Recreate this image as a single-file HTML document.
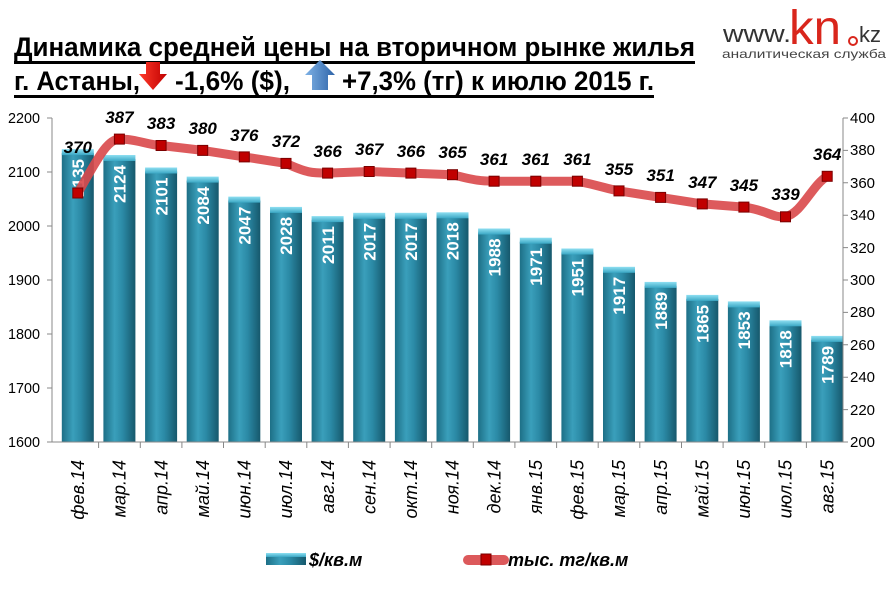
<!DOCTYPE html>
<html><head><meta charset="utf-8"><style>
body{margin:0;background:#fff;width:887px;height:591px;overflow:hidden}
svg{display:block}
text{font-family:"Liberation Sans",sans-serif}
</style></head><body>
<svg width="887" height="591" viewBox="0 0 887 591" xmlns="http://www.w3.org/2000/svg">
<defs>
<linearGradient id="bg" x1="0" x2="1" y1="0" y2="0">
<stop offset="0" stop-color="#1d6f86"/><stop offset="0.35" stop-color="#3a9fbb"/><stop offset="0.6" stop-color="#2b8aa6"/><stop offset="1" stop-color="#16586c"/>
</linearGradient>
<linearGradient id="bt" x1="0" x2="0" y1="0" y2="1"><stop offset="0" stop-color="#8fe0f2"/><stop offset="1" stop-color="#3aa7c4"/></linearGradient>
<linearGradient id="ar" x1="0" x2="1"><stop offset="0" stop-color="#ff3b2b"/><stop offset="1" stop-color="#c00000"/></linearGradient>
<linearGradient id="ab" x1="0" x2="1"><stop offset="0" stop-color="#7fb2e6"/><stop offset="1" stop-color="#2e64a8"/></linearGradient>
<rect id="t" x="-16" y="-4" width="32" height="6" fill="url(#bt)"/>
<rect id="m" x="-5" y="-5" width="10" height="10" fill="#c00000" stroke="#7a0000"/>
</defs>
<!-- Title -->
<text x="14" y="56" font-size="27" font-weight="bold" textLength="681" lengthAdjust="spacingAndGlyphs">Динамика средней  цены на вторичном рынке жилья</text>
<rect x="14" y="61" width="681" height="3" fill="#000"/>
<text x="14" y="90" font-size="27" font-weight="bold" textLength="126" lengthAdjust="spacingAndGlyphs">г. Астаны,</text>
<path d="M146 62h14v12h7l-14 16-14-16h7z" fill="url(#ar)"/>
<text x="175" y="90" font-size="27" font-weight="bold" textLength="115" lengthAdjust="spacingAndGlyphs">-1,6% ($),</text>
<path d="M320 60l15 15h-7v15h-16v-15h-7z" fill="url(#ab)"/>
<text x="342" y="90" font-size="27" font-weight="bold" textLength="312" lengthAdjust="spacingAndGlyphs">+7,3% (тг) к июлю 2015 г.</text>
<rect x="14" y="95" width="640" height="3" fill="#000"/>
<!-- logo -->
<text x="723" y="42" font-size="24" fill="#333" textLength="68" lengthAdjust="spacingAndGlyphs">www.</text>
<text x="789" y="44" font-size="48" fill="#d9261c" textLength="52" lengthAdjust="spacingAndGlyphs">kn</text>
<circle cx="853" cy="41" r="4" fill="none" stroke="#d9261c" stroke-width="2"/>
<text x="859" y="42" font-size="22" fill="#333">kz</text>
<text x="722" y="58" font-size="12" fill="#444" textLength="164" lengthAdjust="spacingAndGlyphs">аналитическая служба</text>
<!-- axes -->
<g font-size="15" fill="#000">
<text x="40" y="123" text-anchor="end" textLength="32" lengthAdjust="spacingAndGlyphs">2200</text><text x="40" y="177" text-anchor="end" textLength="32" lengthAdjust="spacingAndGlyphs">2100</text><text x="40" y="231" text-anchor="end" textLength="32" lengthAdjust="spacingAndGlyphs">2000</text><text x="40" y="285" text-anchor="end" textLength="32" lengthAdjust="spacingAndGlyphs">1900</text><text x="40" y="339" text-anchor="end" textLength="32" lengthAdjust="spacingAndGlyphs">1800</text><text x="40" y="393" text-anchor="end" textLength="32" lengthAdjust="spacingAndGlyphs">1700</text><text x="40" y="447" text-anchor="end" textLength="32" lengthAdjust="spacingAndGlyphs">1600</text>
<text x="850" y="123">400</text><text x="850" y="155">380</text><text x="850" y="188">360</text><text x="850" y="220">340</text><text x="850" y="253">320</text><text x="850" y="285">300</text><text x="850" y="317">280</text><text x="850" y="350">260</text><text x="850" y="382">240</text><text x="850" y="415">220</text><text x="850" y="447">200</text>
</g>
<!-- bars -->
<g fill="url(#bg)">
<rect x="61.8" y="153.1" width="32" height="288.9"/><rect x="103.4" y="159" width="32" height="283"/><rect x="145.1" y="171.5" width="32" height="270.5"/><rect x="186.7" y="180.6" width="32" height="261.4"/><rect x="228.3" y="200.6" width="32" height="241.4"/><rect x="270" y="210.9" width="32" height="231.1"/><rect x="311.6" y="220.1" width="32" height="221.9"/><rect x="353.2" y="216.8" width="32" height="225.2"/><rect x="394.9" y="216.8" width="32" height="225.2"/><rect x="436.5" y="216.3" width="32" height="225.7"/><rect x="478.1" y="232.5" width="32" height="209.5"/><rect x="519.8" y="241.7" width="32" height="200.3"/><rect x="561.4" y="252.5" width="32" height="189.5"/><rect x="603" y="270.8" width="32" height="171.2"/><rect x="644.6" y="285.9" width="32" height="156.1"/><rect x="686.3" y="298.9" width="32" height="143.1"/><rect x="727.9" y="305.4" width="32" height="136.6"/><rect x="769.5" y="324.3" width="32" height="117.7"/><rect x="811.2" y="339.9" width="32" height="102.1"/>
</g>
<use href="#t" x="77.8" y="153.1"/><use href="#t" x="119.4" y="159"/><use href="#t" x="161.1" y="171.5"/><use href="#t" x="202.7" y="180.6"/><use href="#t" x="244.3" y="200.6"/><use href="#t" x="286" y="210.9"/><use href="#t" x="327.6" y="220.1"/><use href="#t" x="369.2" y="216.8"/><use href="#t" x="410.9" y="216.8"/><use href="#t" x="452.5" y="216.3"/><use href="#t" x="494.1" y="232.5"/><use href="#t" x="535.8" y="241.7"/><use href="#t" x="577.4" y="252.5"/><use href="#t" x="619" y="270.8"/><use href="#t" x="660.6" y="285.9"/><use href="#t" x="702.3" y="298.9"/><use href="#t" x="743.9" y="305.4"/><use href="#t" x="785.5" y="324.3"/><use href="#t" x="827.2" y="339.9"/>
<g stroke="#888" stroke-width="1">
<line x1="52" y1="118" x2="52" y2="442"/><line x1="843" y1="118" x2="843" y2="442"/><line x1="47" y1="442" x2="848" y2="442"/>
<path d="M47 118h5M47 172h5M47 226h5M47 280h5M47 334h5M47 388h5M843 118h5M843 150.4h5M843 182.8h5M843 215.2h5M843 247.6h5M843 280h5M843 312.4h5M843 344.8h5M843 377.2h5M843 409.6h5"/>
<path d="M98.6 442v6M140.3 442v6M181.9 442v6M223.5 442v6M265.2 442v6M306.8 442v6M348.4 442v6M390.1 442v6M431.7 442v6M473.3 442v6M514.9 442v6M556.6 442v6M598.2 442v6M639.8 442v6M681.5 442v6M723.1 442v6M764.7 442v6M806.4 442v6"/>
</g>
<!-- bar labels -->
<g font-size="17" font-weight="bold" fill="#fff" text-anchor="end">
<text transform="translate(84,159) rotate(-90)" textLength="38" lengthAdjust="spacingAndGlyphs">2135</text>
<text transform="translate(125.6,165) rotate(-90)" textLength="38" lengthAdjust="spacingAndGlyphs">2124</text>
<text transform="translate(167.3,177.5) rotate(-90)" textLength="38" lengthAdjust="spacingAndGlyphs">2101</text>
<text transform="translate(208.9,186.6) rotate(-90)" textLength="38" lengthAdjust="spacingAndGlyphs">2084</text>
<text transform="translate(250.5,206.6) rotate(-90)" textLength="38" lengthAdjust="spacingAndGlyphs">2047</text>
<text transform="translate(292.2,216.9) rotate(-90)" textLength="38" lengthAdjust="spacingAndGlyphs">2028</text>
<text transform="translate(333.8,226.1) rotate(-90)" textLength="38" lengthAdjust="spacingAndGlyphs">2011</text>
<text transform="translate(375.4,222.8) rotate(-90)" textLength="38" lengthAdjust="spacingAndGlyphs">2017</text>
<text transform="translate(417.1,222.8) rotate(-90)" textLength="38" lengthAdjust="spacingAndGlyphs">2017</text>
<text transform="translate(458.7,222.3) rotate(-90)" textLength="38" lengthAdjust="spacingAndGlyphs">2018</text>
<text transform="translate(500.3,238.5) rotate(-90)" textLength="38" lengthAdjust="spacingAndGlyphs">1988</text>
<text transform="translate(542,247.7) rotate(-90)" textLength="38" lengthAdjust="spacingAndGlyphs">1971</text>
<text transform="translate(583.6,258.5) rotate(-90)" textLength="38" lengthAdjust="spacingAndGlyphs">1951</text>
<text transform="translate(625.2,276.8) rotate(-90)" textLength="38" lengthAdjust="spacingAndGlyphs">1917</text>
<text transform="translate(666.8,291.9) rotate(-90)" textLength="38" lengthAdjust="spacingAndGlyphs">1889</text>
<text transform="translate(708.5,304.9) rotate(-90)" textLength="38" lengthAdjust="spacingAndGlyphs">1865</text>
<text transform="translate(750.1,311.4) rotate(-90)" textLength="38" lengthAdjust="spacingAndGlyphs">1853</text>
<text transform="translate(791.7,330.3) rotate(-90)" textLength="38" lengthAdjust="spacingAndGlyphs">1818</text>
<text transform="translate(833.4,345.9) rotate(-90)" textLength="38" lengthAdjust="spacingAndGlyphs">1789</text>
</g>
<!-- x labels -->
<g font-size="18" font-style="italic" text-anchor="end">
<text transform="translate(84,460) rotate(-90)">фев.14</text>
<text transform="translate(125.6,460) rotate(-90)">мар.14</text>
<text transform="translate(167.3,460) rotate(-90)">апр.14</text>
<text transform="translate(208.9,460) rotate(-90)">май.14</text>
<text transform="translate(250.5,460) rotate(-90)">июн.14</text>
<text transform="translate(292.2,460) rotate(-90)">июл.14</text>
<text transform="translate(333.8,460) rotate(-90)">авг.14</text>
<text transform="translate(375.4,460) rotate(-90)">сен.14</text>
<text transform="translate(417.1,460) rotate(-90)">окт.14</text>
<text transform="translate(458.7,460) rotate(-90)">ноя.14</text>
<text transform="translate(500.3,460) rotate(-90)">дек.14</text>
<text transform="translate(542,460) rotate(-90)">янв.15</text>
<text transform="translate(583.6,460) rotate(-90)">фев.15</text>
<text transform="translate(625.2,460) rotate(-90)">мар.15</text>
<text transform="translate(666.8,460) rotate(-90)">апр.15</text>
<text transform="translate(708.5,460) rotate(-90)">май.15</text>
<text transform="translate(750.1,460) rotate(-90)">июн.15</text>
<text transform="translate(791.7,460) rotate(-90)">июл.15</text>
<text transform="translate(833.4,460) rotate(-90)">авг.15</text>
</g>
<!-- line -->
<path d="M77.8 193 C97 160 107 139 119.4 139.1 C137 139 147 145 161.1 145.5 L202.7 150.4 L244.3 156.9 L286 163.4 C307 173 312 173 327.6 173.1 L369.2 171.5 L410.9 173.1 L452.5 174.7 C477 181 482 181 494.1 181.2 L535.8 181.2 L577.4 181.2 C602 186 607 189 619 190.9 L660.6 197.4 L702.3 203.9 L743.9 207.1 C767 210 772 218 785.5 216.8 C802 213 812 185 827.2 176.3" fill="none" stroke="#d9484a" stroke-width="9" stroke-linejoin="round" opacity="0.9"/>
<use href="#m" x="77.8" y="193"/><use href="#m" x="119.4" y="139.1"/><use href="#m" x="161.1" y="145.5"/><use href="#m" x="202.7" y="150.4"/><use href="#m" x="244.3" y="156.9"/><use href="#m" x="286" y="163.4"/><use href="#m" x="327.6" y="173.1"/><use href="#m" x="369.2" y="171.5"/><use href="#m" x="410.9" y="173.1"/><use href="#m" x="452.5" y="174.7"/><use href="#m" x="494.1" y="181.2"/><use href="#m" x="535.8" y="181.2"/><use href="#m" x="577.4" y="181.2"/><use href="#m" x="619" y="190.9"/><use href="#m" x="660.6" y="197.4"/><use href="#m" x="702.3" y="203.9"/><use href="#m" x="743.9" y="207.1"/><use href="#m" x="785.5" y="216.8"/><use href="#m" x="827.2" y="176.3"/>
<g font-size="17" font-weight="bold" font-style="italic" text-anchor="middle">
<text x="77.8" y="153">370</text><text x="119.4" y="123">387</text><text x="161.1" y="129">383</text><text x="202.7" y="134">380</text><text x="244.3" y="141">376</text><text x="286" y="147">372</text><text x="327.6" y="157">366</text><text x="369.2" y="155">367</text><text x="410.9" y="157">366</text><text x="452.5" y="158">365</text><text x="494.1" y="165">361</text><text x="535.8" y="165">361</text><text x="577.4" y="165">361</text><text x="619" y="175">355</text><text x="660.6" y="181">351</text><text x="702.3" y="188">347</text><text x="743.9" y="191">345</text><text x="785.5" y="200">339</text><text x="827.2" y="160">364</text>
</g>
<!-- legend -->
<rect x="266" y="553" width="40" height="12" fill="url(#bg)"/><rect x="266" y="553" width="40" height="4" fill="url(#bt)"/>
<text x="309" y="566" font-size="18" font-weight="bold" font-style="italic">$/кв.м</text>
<line x1="468" y1="560" x2="504" y2="560" stroke="#d9484a" stroke-width="10" stroke-linecap="round" opacity="0.9"/>
<rect x="481" y="554" width="10" height="11" fill="#c00000" stroke="#7a0000"/>
<text x="508" y="566" font-size="18" font-weight="bold" font-style="italic">тыс. тг/кв.м</text>
</svg>
</body></html>
